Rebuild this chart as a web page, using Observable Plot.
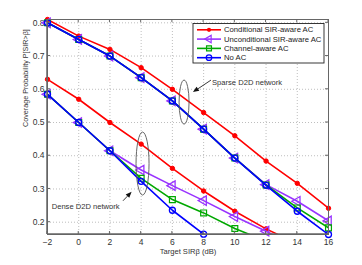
<!DOCTYPE html>
<html><head><meta charset="utf-8">
<script src="https://cdn.jsdelivr.net/npm/d3@7"></script>
<script src="https://cdn.jsdelivr.net/npm/@observablehq/plot@0.6"></script>
<style>body{margin:0;background:#fff}#c{width:362px;height:265px}</style>
</head><body><div id="c"></div>
<script>
const xTicks = [-2, 0, 2, 4, 6, 8, 10, 12, 14, 16];
const yTicks = [0.2, 0.3, 0.4, 0.5, 0.6, 0.7, 0.8];
const seriesNames = ["Conditional SIR-aware AC", "Unconditional SIR-aware AC", "Channel-aware AC", "No AC"];
const seriesColors = ["#ff0000", "#9933ff", "#00a800", "#0000ff"];
const sirX = [-2, 0, 2, 4, 6, 8, 10, 12, 14, 16];
// Sparse D2D network
const sparseCond   = [0.81, 0.76, 0.72, 0.665, 0.60, 0.53, 0.46, 0.384, 0.317, 0.242];
const sparseUncond = [0.80, 0.75, 0.70, 0.635, 0.565, 0.48, 0.393, 0.313, 0.263, 0.204];
const sparseChan   = [0.80, 0.75, 0.70, 0.635, 0.565, 0.48, 0.393, 0.312, 0.243, 0.183];
const sparseNoAC   = [0.80, 0.75, 0.70, 0.635, 0.565, 0.48, 0.393, 0.311, 0.233, 0.163];
// Dense D2D network
const denseCond   = [0.63, 0.57, 0.50, 0.435, 0.362, 0.294, 0.233, 0.18, 0.135];
const denseUncond = [0.585, 0.50, 0.415, 0.357, 0.31, 0.265, 0.217, 0.173, 0.125];
const denseChan   = [0.585, 0.50, 0.415, 0.332, 0.268, 0.228, 0.181, 0.143];
const denseNoAC   = [0.585, 0.50, 0.415, 0.323, 0.236, 0.164];

const sparse = [sparseCond, sparseUncond, sparseChan, sparseNoAC];
const dense = [denseCond, denseUncond, denseChan, denseNoAC];
const rows = [];
seriesNames.forEach((s, i) => {
  sparse[i].forEach((v, j) => rows.push({series: s, idx: i, net: "sparse", x: sirX[j], y: v}));
  dense[i].forEach((v, j) => rows.push({series: s, idx: i, net: "dense", x: sirX[j], y: v}));
});

const symbols = ["circle", "triangle", "square", "circle"];
const markerOpts = [
  {r: 2.2, fill: seriesColors[0], stroke: seriesColors[0], strokeWidth: 1},
  {r: 3.5, fill: "none", stroke: seriesColors[1], strokeWidth: 1.3, rotate: -90},
  {r: 3.3, fill: "none", stroke: seriesColors[2], strokeWidth: 1.2},
  {r: 3.0, fill: "none", stroke: seriesColors[3], strokeWidth: 1.3}
];

const marks = [
  Plot.gridX(xTicks, {stroke: "#999", strokeOpacity: 0.8, strokeDasharray: "1,2", strokeWidth: 0.8}),
  Plot.gridY(yTicks, {stroke: "#999", strokeOpacity: 0.8, strokeDasharray: "1,2", strokeWidth: 0.8}),
  Plot.axisX(xTicks, {tickSize: 0, tickPadding: 4, tickFormat: d => d < 0 ? "\u2212" + (-d) : String(d), fill: "#333", fontSize: 8.5, label: null}),
  Plot.axisY(yTicks, {tickSize: 0, tickPadding: 3, tickFormat: d3.format(".1f"), fill: "#333", fontSize: 8.5, label: null})
];
seriesNames.forEach((s, i) => {
  const d = rows.filter(r => r.idx === i);
  marks.push(Plot.line(d, {x: "x", y: "y", z: "net", stroke: seriesColors[i], strokeWidth: 1.6, clip: true}));
  marks.push(Plot.dot(d.filter(r => r.y >= 0.16), {x: "x", y: "y", symbol: symbols[i], ...markerOpts[i]}));
});
marks.push(Plot.frame({stroke: "#666", strokeWidth: 1}));
marks.push(Plot.text(["Target SIR\u03b2 (dB)"], {frameAnchor: "bottom", lineAnchor: "middle", dy: 17, fontSize: 7.6, fill: "#333"}));
marks.push(Plot.text(["Coverage Probability P[SIR>\u03b2]"], {frameAnchor: "left", lineAnchor: "middle", dx: -22, rotate: -90, fontSize: 7.2, fill: "#333"}));

const plot = Plot.plot({
  width: 362, height: 265,
  marginLeft: 47, marginRight: 34, marginTop: 19, marginBottom: 31,
  style: {fontFamily: "'Liberation Sans', Arial, sans-serif", fontSize: "8.5px", background: "#fff", color: "#333"},
  x: {domain: [-2, 16]},
  y: {domain: [0.163, 0.81]},
  marks
});
document.getElementById("c").appendChild(plot);

const sx = plot.scale("x"), sy = plot.scale("y");
const svg = d3.select(plot);
const g = svg.append("g");
// inward ticks on all sides
const [x0, x1] = [sx.apply(-2), sx.apply(16)];
const [y0, y1] = [sy.apply(0.163), sy.apply(0.81)];
xTicks.forEach(t => {
  const px = sx.apply(t);
  g.append("line").attr("x1", px).attr("x2", px).attr("y1", y0).attr("y2", y0 - 3).attr("stroke", "#666");
  g.append("line").attr("x1", px).attr("x2", px).attr("y1", y1).attr("y2", y1 + 3).attr("stroke", "#666");
});
yTicks.forEach(t => {
  const py = sy.apply(t);
  g.append("line").attr("x1", x0).attr("x2", x0 + 3).attr("y1", py).attr("y2", py).attr("stroke", "#666");
  g.append("line").attr("x1", x1).attr("x2", x1 - 3).attr("y1", py).attr("y2", py).attr("stroke", "#666");
});
g.append("line").attr("x1", x0).attr("x2", x0).attr("y1", y0).attr("y2", y1).attr("stroke", "#666").attr("stroke-width", 1.5);
g.append("line").attr("x1", x0).attr("x2", x1).attr("y1", y0).attr("y2", y0).attr("stroke", "#666").attr("stroke-width", 1.5);

// annotations (data coordinates)
const ellipses = [{x: 6.78, y: 0.56, rx: 5, ry: 22}, {x: 4.12, y: 0.375, rx: 6.5, ry: 31.5}];
ellipses.forEach(e => g.append("ellipse").attr("cx", sx.apply(e.x)).attr("cy", sy.apply(e.y))
  .attr("rx", e.rx).attr("ry", e.ry).attr("fill", "none").attr("stroke", "#555").attr("stroke-width", 0.9));
const arrows = [{x1: 8.5, y1: 0.626, x2: 7.35, y2: 0.59}, {x1: 2.87, y1: 0.263, x2: 3.42, y2: 0.29}];
arrows.forEach(a => {
  const ax = sx.apply(a.x1), ay = sy.apply(a.y1), bx = sx.apply(a.x2), by = sy.apply(a.y2);
  const ang = Math.atan2(by - ay, bx - ax), L = 6, W = 2.5;
  const cx = bx - L * Math.cos(ang), cy = by - L * Math.sin(ang);
  g.append("line").attr("x1", ax).attr("y1", ay).attr("x2", cx).attr("y2", cy).attr("stroke", "#222").attr("stroke-width", 0.9);
  g.append("path").attr("d", `M${bx},${by}L${cx - W * Math.sin(ang)},${cy + W * Math.cos(ang)}L${cx + W * Math.sin(ang)},${cy - W * Math.cos(ang)}Z`).attr("fill", "#111");
});
const notes = [{x: 8.57, y: 0.618, t: "Sparse D2D network"}, {x: -1.7, y: 0.245, t: "Dense D2D network"}];
notes.forEach(n => g.append("text").attr("x", sx.apply(n.x)).attr("y", sy.apply(n.y)).attr("dy", "0.35em")
  .attr("text-anchor", "start").attr("font-size", 7.6).attr("fill", "#333").text(n.t));

// legend
const lg = svg.append("g");
lg.append("rect").attr("x", 193).attr("y", 23.5).attr("width", 131).attr("height", 39.5).attr("fill", "#fff").attr("stroke", "#222").attr("stroke-width", 0.9);
seriesNames.forEach((s, i) => {
  const yy = 29.8 + i * 9.3;
  lg.append("line").attr("x1", 197).attr("x2", 221).attr("y1", yy).attr("y2", yy).attr("stroke", seriesColors[i]).attr("stroke-width", 1.6);
  const sym = d3.symbol().type([d3.symbolCircle, d3.symbolTriangle, d3.symbolSquare, d3.symbolCircle][i]).size(i === 0 ? 14 : 24);
  const p = lg.append("path").attr("d", sym()).attr("transform", `translate(209,${yy}) rotate(${i === 1 ? -90 : 0})`);
  if (i === 0) p.attr("fill", seriesColors[0]);
  else p.attr("fill", "none").attr("stroke", seriesColors[i]).attr("stroke-width", 1.2);
  lg.append("text").attr("x", 224).attr("y", yy).attr("dy", "0.35em").attr("text-anchor", "start").attr("font-size", 7.7).attr("fill", "#222").text(s);
});
</script></body></html>
